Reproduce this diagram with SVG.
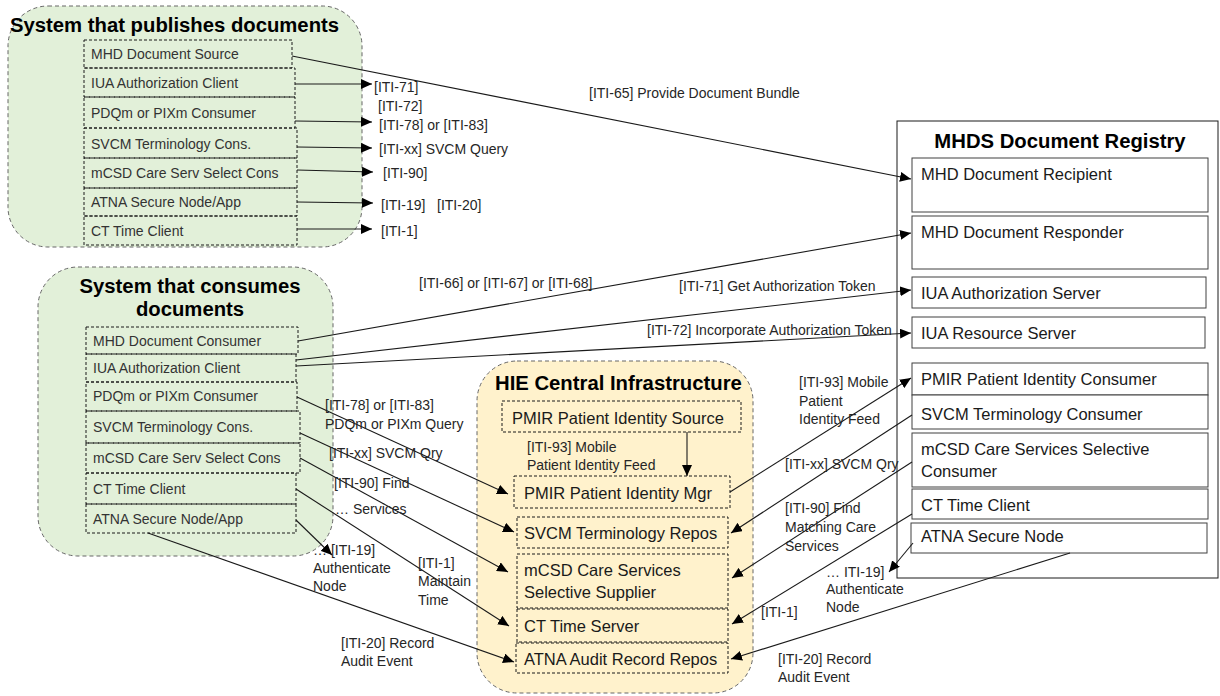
<svg xmlns="http://www.w3.org/2000/svg" width="1220" height="696" viewBox="0 0 1220 696">
<defs>
<marker id="ah" markerUnits="userSpaceOnUse" markerWidth="12" markerHeight="10" refX="11" refY="5" orient="auto">
<path d="M0,0 L11,5 L0,10 z" fill="#000"/>
</marker>
<style>
.grp{stroke:#666;stroke-width:1;stroke-dasharray:4 3}
.gr{fill:#E2F0D9}
.ye{fill:#FFF2CC}
.db{fill:none;stroke:#1a1a1a;stroke-width:1;stroke-dasharray:3 2}
.sb{fill:#fff;stroke:#404040;stroke-width:1}
text{font-family:"Liberation Sans",Arial,sans-serif;fill:#262626}
.ti{font-weight:bold;font-size:20.3px;fill:#000}
.s14{font-size:14px;fill:#333}
.s16{font-size:16.5px;fill:#1a1a1a}
.lb{font-size:14px;fill:#262626}
.c{fill:none;stroke:#1a1a1a;stroke-width:1.1;marker-end:url(#ah)}
</style>
</defs>
<rect width="1220" height="696" fill="#fff"/>

<g id="publisher">
<rect class="grp gr" x="8" y="6" width="354" height="241" rx="40"/>
<text class="ti" x="10" y="32" font-size="20.8">System that publishes documents</text>
<g id="pub-mhd"><rect class="db" x="84" y="40" width="208" height="28"/><text class="s14" x="91" y="59">MHD Document Source</text></g>
<g id="pub-iua"><rect class="db" x="84" y="68" width="211" height="29"/><text class="s14" x="91" y="88">IUA Authorization Client</text></g>
<g id="pub-pdqm"><rect class="db" x="84" y="97" width="211" height="31"/><text class="s14" x="91" y="118">PDQm or PIXm Consumer</text></g>
<g id="pub-svcm"><rect class="db" x="84" y="128" width="213" height="30"/><text class="s14" x="91" y="149">SVCM Terminology Cons.</text></g>
<g id="pub-mcsd"><rect class="db" x="84" y="158" width="213" height="30"/><text class="s14" x="91" y="178">mCSD Care Serv Select Cons</text></g>
<g id="pub-atna"><rect class="db" x="84" y="188" width="213" height="28"/><text class="s14" x="91" y="207">ATNA Secure Node/App</text></g>
<g id="pub-ct"><rect class="db" x="84" y="216" width="213" height="29"/><text class="s14" x="91" y="236">CT Time Client</text></g>
</g>

<g id="consumer">
<rect class="grp gr" x="38" y="267" width="295" height="289" rx="40"/>
<text class="ti" x="190" y="293" text-anchor="middle" font-size="20.8">System that consumes</text>
<text class="ti" x="190" y="316" text-anchor="middle" font-size="20.8">documents</text>
<g id="con-mhd"><rect class="db" x="86" y="327" width="212" height="27"/><text class="s14" x="93" y="346">MHD Document Consumer</text></g>
<g id="con-iua"><rect class="db" x="86" y="354" width="210" height="28"/><text class="s14" x="93" y="373">IUA Authorization Client</text></g>
<g id="con-pdqm"><rect class="db" x="86" y="382" width="211" height="29"/><text class="s14" x="93" y="401">PDQm or PIXm Consumer</text></g>
<g id="con-svcm"><rect class="db" x="86" y="411" width="214" height="32"/><text class="s14" x="93" y="432">SVCM Terminology Cons.</text></g>
<g id="con-mcsd"><rect class="db" x="86" y="443" width="214" height="30"/><text class="s14" x="93" y="463">mCSD Care Serv Select Cons</text></g>
<g id="con-ct"><rect class="db" x="86" y="473" width="210" height="31"/><text class="s14" x="93" y="494">CT Time Client</text></g>
<g id="con-atna"><rect class="db" x="86" y="504" width="210" height="29"/><text class="s14" x="93" y="524">ATNA Secure Node/App</text></g>
</g>

<g id="hie">
<rect class="grp ye" x="477" y="361" width="276" height="332" rx="40"/>
<text class="ti" x="495" y="390">HIE Central Infrastructure</text>
<g id="hie-src"><rect class="db" x="502" y="401" width="239" height="31"/><text class="s16" x="512" y="424">PMIR Patient Identity Source</text></g>
<g id="hie-mgr"><rect class="db" x="514" y="476" width="216" height="32"/><text class="s16" x="524" y="499">PMIR Patient Identity Mgr</text></g>
<g id="hie-svcm"><rect class="db" x="517" y="517" width="211" height="31"/><text class="s16" x="524" y="539">SVCM Terminology Repos</text></g>
<g id="hie-mcsd"><rect class="db" x="517" y="554" width="211" height="54"/><text class="s16" x="524" y="576">mCSD Care Services</text><text class="s16" x="524" y="598">Selective Supplier</text></g>
<g id="hie-ct"><rect class="db" x="517" y="609" width="211" height="33"/><text class="s16" x="524" y="632">CT Time Server</text></g>
<g id="hie-atna"><rect class="db" x="516" y="643" width="212" height="30"/><text class="s16" x="524" y="665">ATNA Audit Record Repos</text></g>
</g>

<g id="registry">
<rect x="897" y="121" width="321" height="457" fill="#fff" stroke="#1a1a1a" stroke-width="1"/>
<text class="ti" x="1060" y="148" text-anchor="middle">MHDS Document Registry</text>
<g id="reg-recipient"><rect class="sb" x="912" y="158" width="296" height="54"/><text class="s16" x="921" y="180">MHD Document Recipient</text></g>
<g id="reg-responder"><rect class="sb" x="912" y="216" width="296" height="53"/><text class="s16" x="921" y="238">MHD Document Responder</text></g>
<g id="reg-authsrv"><rect class="sb" x="912" y="277" width="294" height="31"/><text class="s16" x="921" y="299">IUA Authorization Server</text></g>
<g id="reg-ressrv"><rect class="sb" x="912" y="317" width="293" height="31"/><text class="s16" x="921" y="339">IUA Resource Server</text></g>
<g id="reg-pmir"><rect class="sb" x="912" y="363" width="296" height="32"/><text class="s16" x="921" y="385">PMIR Patient Identity Consumer</text></g>
<g id="reg-svcm"><rect class="sb" x="912" y="395" width="296" height="34"/><text class="s16" x="921" y="420">SVCM Terminology Consumer</text></g>
<g id="reg-mcsd"><rect class="sb" x="912" y="433" width="296" height="54"/><text class="s16" x="921" y="455">mCSD Care Services Selective</text><text class="s16" x="921" y="477">Consumer</text></g>
<g id="reg-ct"><rect class="sb" x="912" y="489" width="296" height="30"/><text class="s16" x="921" y="511">CT Time Client</text></g>
<g id="reg-atna"><rect class="sb" x="911" y="523" width="296" height="30"/><text class="s16" x="921" y="542">ATNA Secure Node</text></g>
</g>

<g id="connectors">
<line class="c" x1="292" y1="56" x2="911" y2="179"/>
<line class="c" x1="295" y1="84" x2="372" y2="84"/>
<line class="c" x1="295" y1="121" x2="372" y2="122"/>
<line class="c" x1="297" y1="147" x2="372" y2="148"/>
<line class="c" x1="297" y1="170" x2="373" y2="172"/>
<line class="c" x1="297" y1="202" x2="373" y2="203"/>
<line class="c" x1="297" y1="229" x2="372" y2="229"/>
<line class="c" x1="298" y1="341" x2="911" y2="233"/>
<line class="c" x1="296" y1="360" x2="911" y2="290"/>
<line class="c" x1="296" y1="366" x2="911" y2="333"/>
<line class="c" x1="297" y1="397" x2="508" y2="494"/>
<line class="c" x1="300" y1="433" x2="514" y2="532"/>
<line class="c" x1="300" y1="458" x2="508" y2="572"/>
<line class="c" x1="296" y1="489" x2="509" y2="626"/>
<line class="c" x1="296" y1="520" x2="332" y2="555"/>
<line class="c" x1="148" y1="533" x2="514" y2="662"/>
<line class="c" x1="687" y1="432" x2="687" y2="476"/>
<line class="c" x1="730" y1="492" x2="911" y2="378"/>
<line class="c" x1="912" y1="415" x2="731" y2="533"/>
<line class="c" x1="912" y1="462" x2="732" y2="578"/>
<line class="c" x1="912" y1="514" x2="732" y2="624"/>
<line class="c" x1="913" y1="543" x2="889" y2="572"/>
<line class="c" x1="1070" y1="553" x2="731" y2="659"/>

<text class="lb" x="589" y="98">[ITI-65] Provide Document Bundle</text>
<text class="lb" x="374" y="92">[ITI-71]</text>
<text class="lb" x="378" y="111">[ITI-72]</text>
<text class="lb" x="379" y="130">[ITI-78] or [ITI-83]</text>
<text class="lb" x="379" y="154">[ITI-xx] SVCM Query</text>
<text class="lb" x="383" y="178">[ITI-90]</text>
<text class="lb" x="381" y="210">[ITI-19]</text>
<text class="lb" x="437" y="210">[ITI-20]</text>
<text class="lb" x="381" y="236">[ITI-1]</text>
<text class="lb" x="419" y="288">[ITI-66] or [ITI-67] or [ITI-68]</text>
<text class="lb" x="679" y="291">[ITI-71] Get Authorization Token</text>
<text class="lb" x="647" y="335">[ITI-72] Incorporate Authorization Token</text>
<text class="lb" x="325" y="410">[ITI-78] or [ITI-83]</text>
<text class="lb" x="325" y="429">PDQm or PIXm Query</text>
<text class="lb" x="329" y="458">[ITI-xx] SVCM Qry</text>
<text class="lb" x="334" y="488">[ITI-90] Find</text>
<text class="lb" x="335" y="514">… Services</text>
<text class="lb" x="313" y="555">… [ITI-19]</text>
<text class="lb" x="313" y="573">Authenticate</text>
<text class="lb" x="313" y="591">Node</text>
<text class="lb" x="418" y="568">[ITI-1]</text>
<text class="lb" x="418" y="586">Maintain</text>
<text class="lb" x="418" y="605">Time</text>
<text class="lb" x="341" y="648">[ITI-20] Record</text>
<text class="lb" x="341" y="666">Audit Event</text>
<text class="lb" x="527" y="452">[ITI-93] Mobile</text>
<text class="lb" x="527" y="470">Patient Identity Feed</text>
<text class="lb" x="799" y="387">[ITI-93] Mobile</text>
<text class="lb" x="799" y="406">Patient</text>
<text class="lb" x="799" y="424">Identity Feed</text>
<text class="lb" x="785" y="469">[ITI-xx] SVCM Qry</text>
<text class="lb" x="785" y="513">[ITI-90] Find</text>
<text class="lb" x="785" y="532">Matching Care</text>
<text class="lb" x="785" y="551">Services</text>
<text class="lb" x="761" y="617">[ITI-1]</text>
<text class="lb" x="826" y="577">… ITI-19]</text>
<text class="lb" x="826" y="594">Authenticate</text>
<text class="lb" x="826" y="612">Node</text>
<text class="lb" x="778" y="664">[ITI-20] Record</text>
<text class="lb" x="778" y="682">Audit Event</text>
</g>
</svg>
